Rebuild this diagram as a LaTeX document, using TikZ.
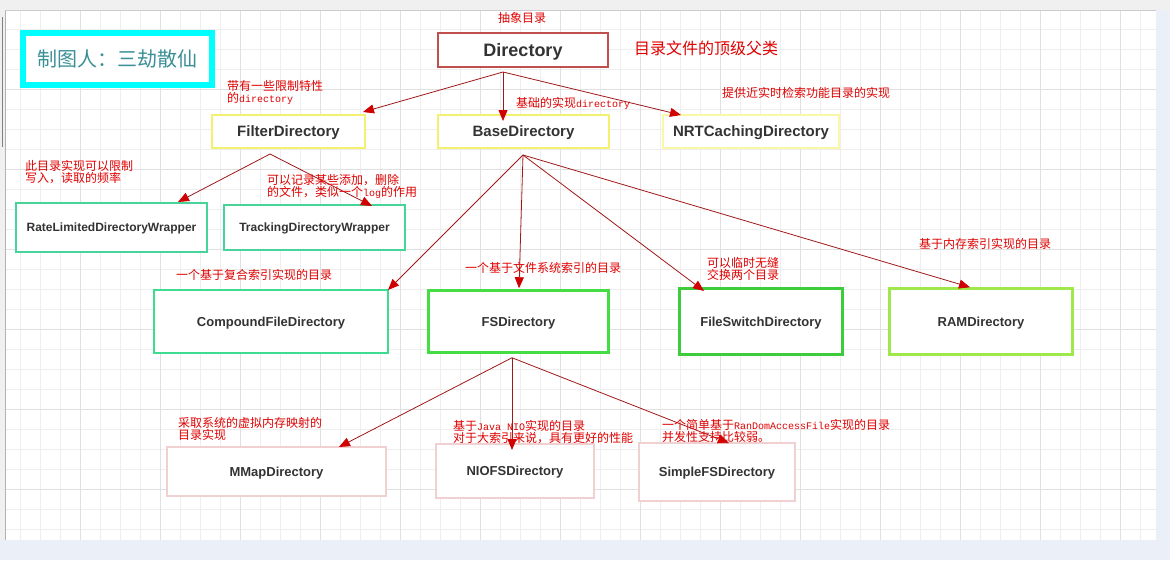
\documentclass[tikz,border=0pt]{standalone}
\usepackage{fontspec}
\setmainfont{Liberation Sans}
\newfontfamily\cjk{Noto Sans CJK SC}
\newfontfamily\monofnt{Liberation Mono}
\usetikzlibrary{arrows.meta}
\definecolor{bgtop}{HTML}{F0F0F0}
\definecolor{bgside}{HTML}{EBF0F8}
\definecolor{gridminor}{HTML}{EEEEEE}
\definecolor{gridmajor}{HTML}{E0E0E0}
\definecolor{dirred}{HTML}{C0504D}
\definecolor{yel}{HTML}{F4F070}
\definecolor{yelpale}{HTML}{FAF8A6}
\definecolor{teal1}{HTML}{46D49A}
\definecolor{teal2}{HTML}{3EDC90}
\definecolor{green1}{HTML}{44DD44}
\definecolor{green2}{HTML}{3CCC3C}
\definecolor{lime}{HTML}{9EE84C}
\definecolor{pink}{HTML}{F0D0D0}
\definecolor{txtgray}{HTML}{333333}
\definecolor{linered}{HTML}{A01818}
\definecolor{tipred}{HTML}{D00000}
\definecolor{lblred}{HTML}{E00000}
\definecolor{cyanbox}{HTML}{00FFFF}
\definecolor{tealtxt}{HTML}{3A9096}
\newcommand\monotxt[1]{{\monofnt\fontsize{10}{12}\selectfont #1}}
\begin{document}
\begin{tikzpicture}[x=1pt,y=-1pt,
  box/.style={draw, fill=white, line width=2pt, inner sep=0pt, text=txtgray, text depth=0pt},
  fA/.style={font=\fontsize{18}{20}\selectfont\bfseries},
  fB/.style={font=\fontsize{15}{17}\selectfont\bfseries},
  fC/.style={font=\fontsize{12}{14}\selectfont\bfseries},
  fD/.style={font=\fontsize{13}{15}\selectfont\bfseries},
  conn/.style={draw=linered, line width=0.8pt, -{Triangle[length=11pt,width=9pt,color=tipred]}},
  lbl/.style={text=lblred, inner sep=0pt, anchor=west, align=left, font=\cjk\fontsize{12}{12}\selectfont}
]
\useasboundingbox (0,0) rectangle (1170,560);
% background
\fill[bgtop] (0,0) rectangle (1170,560);
\fill[bgside] (1156,10) rectangle (1170,560);
\fill[bgside] (0,540) rectangle (1170,560);
\fill[white] (5,10) rectangle (1156,540);
\foreach \x in {20,40,...,1140} \draw[gridminor, line width=1pt] (\x,10) -- (\x,540);
\foreach \y in {29,49,...,529} \draw[gridminor, line width=1pt] (5,\y) -- (1156,\y);
\foreach \x in {80,160,...,1120} \draw[gridmajor, line width=1pt] (\x,10) -- (\x,540);
\foreach \y in {89,169,...,489} \draw[gridmajor, line width=1pt] (5,\y) -- (1156,\y);
\draw[gray!60, line width=1pt] (5,10) -- (5,540);
\draw[gray!40] (5,10) -- (1156,10);
\draw[gray, line width=1.5pt] (2.5,17) -- (2.5,147);

% author box
\node[draw=cyanbox, line width=6pt, fill=white, minimum width=189pt, minimum height=52pt,
      text=tealtxt, font=\cjk\fontsize{20}{22}\selectfont] (author) at (117.5,59) {制图人：三劫散仙};

% nodes
\node[box, fA, draw=dirred, minimum width=170pt, minimum height=34pt] (dir) at (523,50) {Directory};
\node[box, fB, draw=yel, minimum width=153pt, minimum height=33pt] (filt) at (288.5,131.5) {FilterDirectory};
\node[box, fB, draw=yel, minimum width=171pt, minimum height=33pt] (base) at (523.5,131.5) {BaseDirectory};
\node[box, fB, draw=yelpale, minimum width=176pt, minimum height=33pt] (nrt) at (751,131.5) {NRTCachingDirectory};
\node[box, fC, draw=teal1, minimum width=191pt, minimum height=49pt] (rate) at (111.5,227.5) {RateLimitedDirectoryWrapper};
\node[box, fC, draw=teal1, minimum width=181pt, minimum height=45pt] (track) at (314.5,227.5) {TrackingDirectoryWrapper};
\node[box, fD, draw=teal2, minimum width=234pt, minimum height=63pt] (comp) at (271,321.5) {CompoundFileDirectory};
\node[box, fD, draw=green1, line width=2.5pt, minimum width=180pt, minimum height=62pt] (fs) at (518.5,321.5) {FSDirectory};
\node[box, fD, draw=green2, line width=3pt, minimum width=163pt, minimum height=66pt] (fsw) at (761,321.5) {FileSwitchDirectory};
\node[box, fD, draw=lime, line width=2.5pt, minimum width=183pt, minimum height=66pt] (ram) at (981,321.5) {RAMDirectory};
\node[box, fD, draw=pink, minimum width=219pt, minimum height=49pt] (mmap) at (276.5,471.5) {MMapDirectory};
\node[box, fD, draw=pink, minimum width=158pt, minimum height=54pt] (nio) at (515,471) {NIOFSDirectory};
\node[box, fD, draw=pink, minimum width=156pt, minimum height=58pt] (sfs) at (717,472) {SimpleFSDirectory};

% connector origins
\coordinate (dirs) at ([xshift=-20pt,yshift=-4pt]dir.south);
\coordinate (filts) at ([xshift=-18.5pt,yshift=-5pt]filt.south);
\coordinate (bases) at ([xshift=-0.5pt,yshift=-6pt]base.south);
\coordinate (fss) at ([xshift=-6.5pt,yshift=-4pt]fs.south);

% connectors
\draw[conn] (dirs) -- ([xshift=-3pt,yshift=2pt]filt.north east);
\draw[conn] (dirs) -- ([xshift=-20.5pt,yshift=-7pt]base.north);
\draw[conn] (dirs) -- ([xshift=19pt,yshift=-1pt]nrt.north west);
\draw[conn] (filts) -- ([xshift=-30pt]rate.north east);
\draw[conn] (filts) -- ([xshift=-34pt,yshift=-2pt]track.north east);
\draw[conn] (bases) -- ([xshift=-1pt,yshift=-1pt]comp.north east);
\draw[conn] (bases) -- ([xshift=0.5pt,yshift=1pt]fs.north);
\draw[conn] (bases) -- ([xshift=26pt,yshift=-4pt]fsw.north west);
\draw[conn] (bases) -- ([xshift=-11pt]ram.north);
\draw[conn] (fss) -- ([xshift=62.5pt,yshift=-1pt]mmap.north);
\draw[conn] (fss) -- ([xshift=-3pt,yshift=-7pt]nio.north);
\draw[conn] (fss) -- ([xshift=12pt,yshift=-1pt]sfs.north);

% labels
\node[lbl] (l0) at (498,18) {抽象目录};
\node[lbl, font=\cjk\fontsize{16}{16}\selectfont] (l1) at (634,48.5) {目录文件的顶级父类};
\node[lbl] (l2) at (227,92.5) {带有一些限制特性\\的\monotxt{directory}};
\node[lbl] (l3) at (516,103) {基础的实现\monotxt{directory}};
\node[lbl] (l4) at (722,92.5) {提供近实时检索功能目录的实现};
\node[lbl] (l5) at (25,172) {此目录实现可以限制\\写入，读取的频率};
\node[lbl] (l6) at (267,186) {可以记录某些添加，删除\\的文件，类似一个\monotxt{log}的作用};
\node[lbl] (l7) at (176,275) {一个基于复合索引实现的目录};
\node[lbl] (l8) at (465,268) {一个基于文件系统索引的目录};
\node[lbl] (l9) at (707,268.5) {可以临时无缝\\交换两个目录};
\node[lbl] (l10) at (919,244) {基于内存索引实现的目录};
\node[lbl] (l11) at (178,429) {采取系统的虚拟内存映射的\\目录实现};
\node[lbl] (l12) at (453,432) {基于\monotxt{Java NIO}实现的目录\\对于大索引来说，具有更好的性能};
\node[lbl] (l13) at (662,431) {一个简单基于\monotxt{RanDomAccessFile}实现的目录\\并发性支持比较弱。};
\end{tikzpicture}
\end{document}
